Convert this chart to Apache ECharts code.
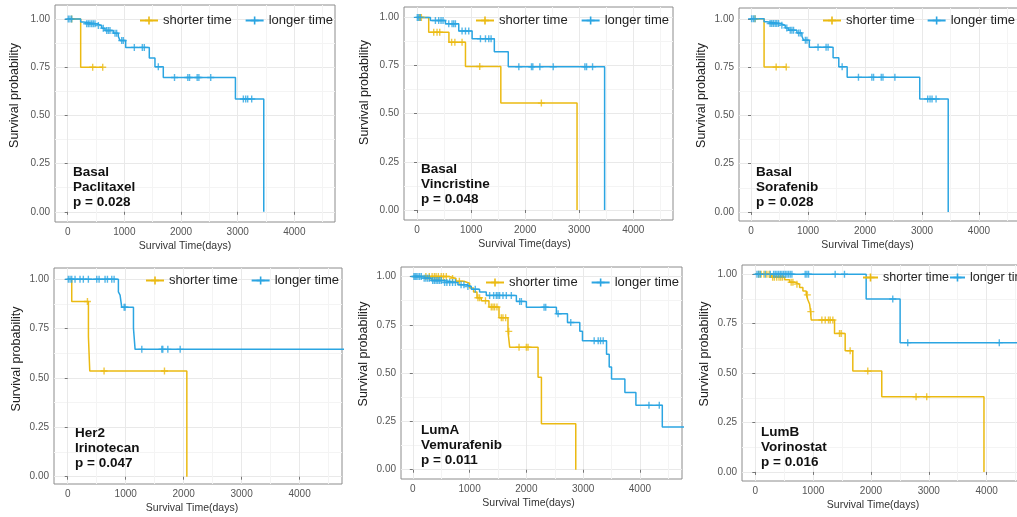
<!DOCTYPE html>
<html>
<head>
<meta charset="utf-8">
<script src="https://cdn.jsdelivr.net/npm/echarts@6/dist/echarts.min.js"></script>
<style>
  html, body { margin: 0; padding: 0; background: #fff; }
  #chart { width: 1017px; height: 517px; }
</style>
</head>
<body>
<div id="chart"></div>
<script>
const legendNames = ['shorter time', 'longer time']
const xTicks = [0, 1000, 2000, 3000, 4000]
const xMinorTicks = [500, 1500, 2500, 3500, 4500]
const yTicks = [0, 0.25, 0.5, 0.75, 1]
const yMinorTicks = [0.125, 0.375, 0.625, 0.875]

const p1Labels = ['Basal', 'Paclitaxel', 'p = 0.028']
const p2Labels = ['Basal', 'Vincristine', 'p = 0.048']
const p3Labels = ['Basal', 'Sorafenib', 'p = 0.028']
const p4Labels = ['Her2', 'Irinotecan', 'p = 0.047']
const p5Labels = ['LumA', 'Vemurafenib', 'p = 0.011']
const p6Labels = ['LumB', 'Vorinostat', 'p = 0.016']

// [days, survival] steps and censor marks
const p1ShortSteps = [[0, 1], [229, 0.75], [618, 0.75]]
const p1ShortCensor = [[70, 1], [441, 0.75], [618, 0.75]]
const p1LongSteps = [[0, 1], [229, 0.985], [276, 0.976], [511, 0.967], [600, 0.953], [658, 0.941], [805, 0.927], [893, 0.91], [923, 0.889],
  [1023, 0.853], [1440, 0.798], [1540, 0.752], [1687, 0.697], [2960, 0.585], [3460, 0]]
const p1LongCensor = [[10, 1], [40, 1], [70, 1], [335, 0.976], [364, 0.976], [393, 0.976], [424, 0.976], [452, 0.976], [482, 0.976],
  [541, 0.967], [628, 0.953], [688, 0.941], [717, 0.941], [746, 0.941], [835, 0.927], [864, 0.927], [953, 0.889], [981, 0.889],
  [1176, 0.853], [1317, 0.853], [1352, 0.853], [1599, 0.752], [1885, 0.697], [2120, 0.697], [2150, 0.697], [2285, 0.697],
  [2315, 0.697], [2524, 0.697], [3100, 0.585], [3141, 0.585], [3176, 0.585], [3247, 0.585]]

const p2ShortSteps = [[0, 1], [216, 0.923], [590, 0.871], [896, 0.745], [1550, 0.555], [2960, 0]]
const p2ShortCensor = [[49, 1], [80, 1], [309, 0.923], [370, 0.923], [420, 0.923], [640, 0.871], [700, 0.871], [833, 0.871],
  [1160, 0.745], [2300, 0.555]]
const p2LongSteps = [[0, 1], [248, 0.984], [525, 0.967], [772, 0.929], [1019, 0.889], [1430, 0.822], [1688, 0.744], [3470, 0]]
const p2LongCensor = [[5, 1], [30, 1], [60, 1], [340, 0.984], [401, 0.984], [444, 0.984], [481, 0.984], [587, 0.967], [648, 0.967],
  [679, 0.967], [710, 0.967], [833, 0.929], [896, 0.929], [957, 0.929], [1173, 0.889], [1266, 0.889], [1327, 0.889], [1370, 0.889],
  [1883, 0.744], [2117, 0.744], [2142, 0.744], [2272, 0.744], [2519, 0.744], [3105, 0.744], [3136, 0.744], [3247, 0.744]]

// Sorafenib curves look the same as Paclitaxel
const p3ShortSteps = p1ShortSteps
const p3ShortCensor = p1ShortCensor
const p3LongSteps = p1LongSteps
const p3LongCensor = p1LongCensor

const p4ShortSteps = [[0, 1], [69, 0.887], [357, 0.709], [380, 0.535], [2055, 0]]
const p4ShortCensor = [[340, 0.887], [627, 0.535], [1669, 0.535]]
const p4LongSteps = [[0, 1], [874, 0.936], [903, 0.92], [932, 0.858], [1134, 0.752], [1162, 0.645], [4800, 0.645]]
const p4LongCensor = [[10, 1], [40, 1], [69, 1], [126, 1], [212, 1], [269, 1], [356, 1], [501, 1], [541, 1], [644, 1], [685, 1],
  [760, 1], [800, 1], [973, 0.858], [990, 0.858], [1278, 0.645], [1623, 0.645], [1640, 0.645], [1727, 0.645], [1940, 0.645]]

const p5ShortSteps = [[0, 1], [640, 0.99], [760, 0.975], [900, 0.965], [1000, 0.94], [1070, 0.92], [1130, 0.89], [1206, 0.875],
  [1341, 0.842], [1518, 0.787], [1676, 0.716], [1706, 0.634], [2206, 0.478], [2265, 0.238], [2870, 0]]
const p5ShortCensor = [[230, 1], [290, 1], [340, 1], [380, 1], [410, 1], [450, 1], [500, 1], [540, 1], [590, 1], [700, 0.99],
  [820, 0.975], [1147, 0.89], [1176, 0.89], [1280, 0.875], [1382, 0.842], [1412, 0.842], [1441, 0.842], [1482, 0.842],
  [1559, 0.787], [1588, 0.787], [1635, 0.787], [1690, 0.716], [1871, 0.634], [2000, 0.634], [2029, 0.634]]
const p5LongSteps = [[0, 1], [176, 0.991], [324, 0.979], [530, 0.969], [795, 0.957], [942, 0.948], [1030, 0.934], [1176, 0.919],
  [1294, 0.902], [1824, 0.871], [2000, 0.841], [2529, 0.807], [2724, 0.762], [2941, 0.716], [2988, 0.667], [3412, 0.598],
  [3459, 0.531], [3500, 0.469], [3735, 0.4], [3929, 0.333], [4394, 0.221], [4800, 0.221]]
const p5LongCensor = [[20, 1], [40, 1], [60, 1], [90, 1], [120, 1], [150, 1], [200, 0.991], [230, 0.991], [260, 0.991], [290, 0.991],
  [350, 0.979], [380, 0.979], [410, 0.979], [440, 0.979], [470, 0.979], [500, 0.979], [560, 0.969], [600, 0.969], [650, 0.969],
  [700, 0.969], [750, 0.969], [850, 0.957], [900, 0.957], [970, 0.948], [1100, 0.934], [1353, 0.902], [1424, 0.902],
  [1471, 0.902], [1500, 0.902], [1529, 0.902], [1588, 0.902], [1647, 0.902], [1735, 0.902], [1882, 0.871], [1912, 0.871],
  [2312, 0.841], [2341, 0.841], [2559, 0.807], [2782, 0.762], [3194, 0.667], [3265, 0.667], [3306, 0.667], [3353, 0.667],
  [4159, 0.333], [4341, 0.333]]

const p6ShortSteps = [[0, 1], [276, 0.985], [507, 0.972], [593, 0.96], [680, 0.95], [766, 0.933], [823, 0.916], [881, 0.896],
  [910, 0.87], [940, 0.848], [955, 0.811], [967, 0.769], [1370, 0.701], [1554, 0.613], [1686, 0.51], [2187, 0.38], [3954, 0]]
const p6ShortCensor = [[60, 1], [100, 1], [150, 1], [200, 1], [240, 1], [300, 0.985], [330, 0.985], [370, 0.985], [410, 0.985],
  [440, 0.985], [470, 0.985], [620, 0.96], [650, 0.96], [720, 0.95], [900, 0.896], [960, 0.811], [1151, 0.769], [1209, 0.769],
  [1266, 0.769], [1295, 0.769], [1341, 0.769], [1456, 0.701], [1485, 0.701], [1640, 0.613], [1945, 0.51], [2780, 0.38], [2964, 0.38]]
const p6LongSteps = [[0, 1], [1917, 0.875], [2504, 0.654], [4800, 0.654]]
const p6LongCensor = [[29, 1], [58, 1], [86, 1], [173, 1], [259, 1], [317, 1], [345, 1], [374, 1], [403, 1], [432, 1], [460, 1],
  [489, 1], [518, 1], [547, 1], [575, 1], [604, 1], [633, 1], [863, 1], [892, 1], [921, 1], [1381, 1], [1542, 1], [2377, 0.875],
  [2636, 0.654], [4219, 0.654]]

const yellow = '#EBBA12'
const blue = '#2BA5E2'
const font = "'Liberation Sans', Arial, Helvetica, sans-serif"
const plus = 'path://M0,4 L10,4 L10,6 L0,6 Z M4,0 L6,0 L6,10 L4,10 Z'

// layout of each panel: grid rect [left, top, width, height], axis ranges,
// legend [left, centre y, gap, icon width], note anchor, title offsets
const panels = [
  { labels: p1Labels, short: p1ShortSteps, shortCensor: p1ShortCensor, long: p1LongSteps, longCensor: p1LongCensor,
    rect: [55, 5, 280, 217], x: [-224, 4717], y: [-0.053, 1.073], legend: [139, 21, 13, 18], note: [73, 165],
    yGap: 34, xShift: 10, yShift: 18, legendFont: 13 },
  { labels: p2Labels, short: p2ShortSteps, shortCensor: p2ShortCensor, long: p2LongSteps, longCensor: p2LongCensor,
    rect: [404, 7, 269, 213], x: [-241, 4735], y: [-0.052, 1.054], legend: [475, 21, 13, 18], note: [421, 161.5],
    yGap: 33, xShift: 14, yShift: 21, legendFont: 13 },
  { labels: p3Labels, short: p3ShortSteps, shortCensor: p3ShortCensor, long: p3LongSteps, longCensor: p3LongCensor,
    rect: [739, 8, 291, 213], x: [-211, 4895], y: [-0.047, 1.056], legend: [822, 21, 12, 18], note: [756, 165],
    yGap: 31, xShift: 17, yShift: 19, legendFont: 13 },
  { labels: p4Labels, short: p4ShortSteps, shortCensor: p4ShortCensor, long: p4LongSteps, longCensor: p4LongCensor,
    rect: [54, 268, 288, 216], x: [-237, 4732], y: [-0.037, 1.057], legend: [145, 281, 13, 18], note: [75, 426],
    yGap: 31, xShift: 6, yShift: 17, legendFont: 13 },
  { labels: p5Labels, short: p5ShortSteps, shortCensor: p5ShortCensor, long: p5LongSteps, longCensor: p5LongCensor,
    rect: [401, 267, 281, 212], x: [-208, 4741], y: [-0.048, 1.049], legend: [485, 283, 13, 18], note: [421, 423],
    yGap: 31, xShift: 13, yShift: 19, legendFont: 13 },
  { labels: p6Labels, short: p6ShortSteps, shortCensor: p6ShortCensor, long: p6LongSteps, longCensor: p6LongCensor,
    rect: [742, 265, 288, 216], x: [-230, 4750], y: [-0.046, 1.047], legend: [862, 278, 0, 15], note: [761, 424.5],
    yGap: 31, xShift: 13, yShift: 19, legendFont: 12.5 }
]

const option = {
  animation: false,
  backgroundColor: '#fff',
  textStyle: { fontFamily: font },
  grid: [], xAxis: [], yAxis: [], series: [], legend: [], title: []
}

const minorAxis = (i, range, ticks) => ({
  type: 'value', gridIndex: i, min: range[0], max: range[1],
  axisLine: { show: false },
  axisTick: { show: false, customValues: ticks },
  axisLabel: { show: false, customValues: ticks },
  splitLine: { show: true, lineStyle: { color: '#f4f4f4', width: 1 } }
})

const stepSeries = (name, data, color, i) => ({
  name, type: 'line', step: 'end', data,
  xAxisIndex: 2 * i, yAxisIndex: 2 * i,
  showSymbol: false, symbol: plus, symbolSize: 8,
  lineStyle: { color, width: 1.5 }, itemStyle: { color },
  silent: true, z: 3
})

const censorSeries = (name, data, color, i) => ({
  name, type: 'scatter', data,
  xAxisIndex: 2 * i, yAxisIndex: 2 * i,
  symbol: plus, symbolSize: 7,
  itemStyle: { color }, silent: true, z: 4
})

panels.forEach((p, i) => {
  option.grid.push({
    left: p.rect[0], top: p.rect[1], width: p.rect[2], height: p.rect[3],
    show: true, borderColor: '#8c8c8c', borderWidth: 1, outerBoundsMode: 'none'
  })
  option.xAxis.push({
    type: 'value', gridIndex: i, min: p.x[0], max: p.x[1],
    name: 'Survival Time(days)', nameLocation: 'middle', nameGap: 19, nameMoveOverlap: false,
    nameTextStyle: { fontSize: 10.5, color: '#333', padding: [0, 2 * p.xShift, 0, 0] },
    axisLine: { show: false },
    axisTick: { show: true, length: 3, lineStyle: { color: '#777' }, customValues: xTicks },
    axisLabel: { fontSize: 10, color: '#555', margin: 5, customValues: xTicks, formatter: v => String(v) },
    splitLine: { show: true, lineStyle: { color: '#e9e9e9', width: 1 } }
  }, minorAxis(i, p.x, xMinorTicks))
  option.yAxis.push({
    type: 'value', gridIndex: i, min: p.y[0], max: p.y[1],
    name: 'Survival probability', nameLocation: 'middle', nameGap: p.yGap, nameMoveOverlap: false,
    nameTextStyle: { fontSize: 12.5, color: '#222', padding: [0, 0, 0, 2 * p.yShift] },
    axisLine: { show: false },
    axisTick: { show: true, length: 3, lineStyle: { color: '#777' }, customValues: yTicks },
    axisLabel: { fontSize: 10, color: '#555', margin: 5, customValues: yTicks, formatter: v => v.toFixed(2) },
    splitLine: { show: true, lineStyle: { color: '#e9e9e9', width: 1 } }
  }, minorAxis(i, p.y, yMinorTicks))

  option.series.push(
    stepSeries(legendNames[0], p.short, yellow, i),
    censorSeries('shorter censored', p.shortCensor, yellow, i),
    stepSeries(legendNames[1], p.long, blue, i),
    censorSeries('longer censored', p.longCensor, blue, i)
  )

  option.legend.push({
    data: legendNames, left: p.legend[0], top: p.legend[1] - 7, width: 400, padding: 0,
    itemWidth: p.legend[3], itemHeight: 10, itemGap: p.legend[2], selectedMode: false,
    textStyle: { fontSize: p.legendFont, color: '#222', fontFamily: font }
  })

  option.title.push({
    text: p.labels.join('\n'), left: p.note[0], top: p.note[1], padding: 0,
    textStyle: { fontSize: 13.5, fontWeight: 'bold', color: '#111', lineHeight: 15, fontFamily: font }
  })
})

const chart = echarts.init(document.getElementById('chart'), null, { renderer: 'canvas' })
chart.setOption(option)
</script>
</body>
</html>
